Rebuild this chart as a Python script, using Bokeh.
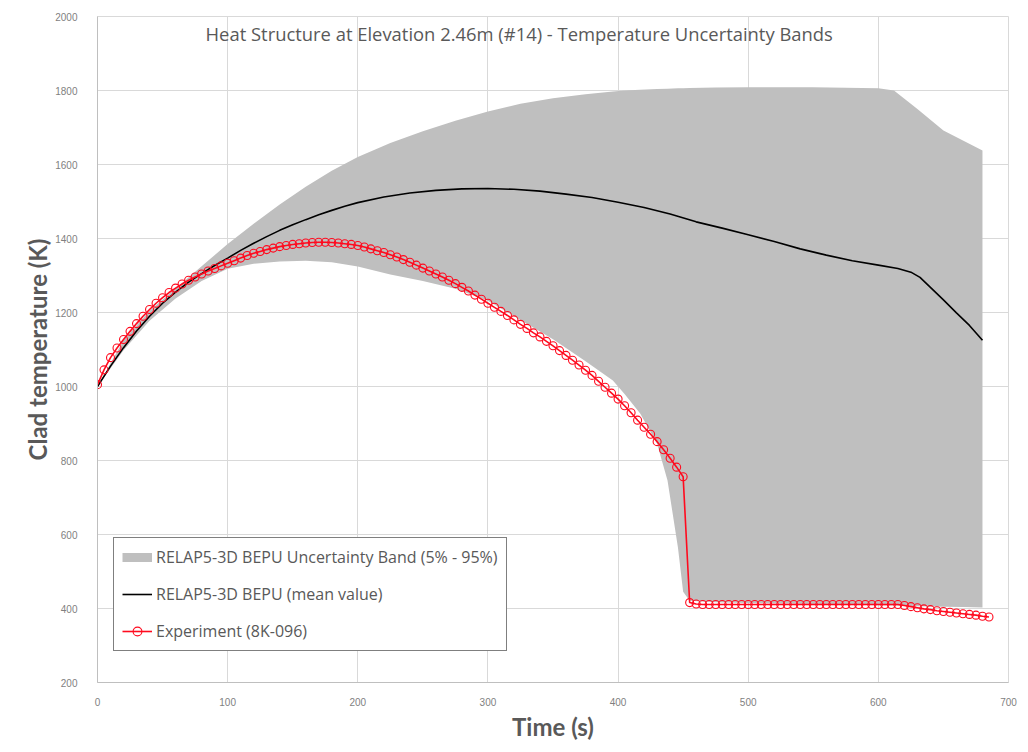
from bokeh.plotting import figure
from bokeh.models import Label, Legend, LegendItem, FixedTicker, Range1d
from bokeh.embed import file_html
from bokeh.resources import INLINE

# --- data -------------------------------------------------------------------
# Experiment 8K-096, clad temperature (K) sampled every 5 s
exp_time = list(range(0, 690, 5))
exp_temp = [
    1005, 1045, 1078, 1104, 1127, 1149, 1170, 1190, 1208, 1225,
    1240, 1254, 1266, 1277, 1287, 1296, 1304, 1312, 1319, 1326,
    1333, 1340, 1347, 1354, 1360, 1365, 1370, 1374, 1378, 1381,
    1384, 1386, 1388, 1389, 1390, 1390, 1389, 1388, 1386, 1384,
    1381, 1377, 1372, 1367, 1362, 1356, 1350, 1343, 1336, 1328,
    1320, 1312, 1304, 1296, 1287, 1278, 1268, 1258, 1247, 1236,
    1225, 1214, 1203, 1192, 1180, 1168, 1157, 1145, 1134, 1122,
    1110, 1097, 1084, 1071, 1058, 1044, 1030, 1014, 998, 982,
    966, 948, 929, 909, 890, 871, 851, 829, 806, 782,
    756, 416, 412, 411, 411, 411, 411, 411, 411, 411,
    411, 411, 411, 411, 411, 411, 411, 411, 411, 411,
    411, 411, 411, 411, 411, 411, 411, 411, 411, 411,
    411, 411, 411, 411, 408, 405, 402, 399, 397, 394,
    392, 390, 388, 386, 384, 382, 379, 377,
]

# RELAP5-3D BEPU mean value
mean_time = [0, 10, 20, 30, 40, 50, 60, 70, 80, 90, 100, 110, 120, 130, 140,
             150, 160, 170, 180, 190, 200, 220, 240, 260, 280, 300, 320, 340,
             360, 380, 400, 420, 440, 460, 480, 500, 520, 540, 560, 580, 600,
             615, 625, 632, 640, 650, 660, 670, 680]
mean_temp = [1000, 1055, 1105, 1150, 1190, 1225, 1255, 1282, 1305, 1327, 1347,
             1368, 1387, 1405, 1422, 1437, 1451, 1464, 1476, 1487, 1497, 1512,
             1523, 1530, 1534, 1535, 1533, 1528, 1520, 1511, 1498, 1484, 1466,
             1445, 1428, 1410, 1392, 1372, 1355, 1340, 1328, 1319, 1309, 1295,
             1268, 1234, 1199, 1165, 1125]

# RELAP5-3D BEPU 5% - 95% uncertainty band
band_time = [0, 20, 40, 60, 80, 100, 120, 140, 160, 180, 200, 225, 250, 275,
             300, 325, 350, 375, 396, 405, 417, 430, 438, 446, 450, 455, 475,
             500, 550, 600, 612, 630, 650, 665, 680]
band_low = [1000, 1098, 1178, 1238, 1285, 1318, 1332, 1338, 1340, 1336, 1324,
            1303, 1285, 1264, 1232, 1180, 1128, 1068, 1016, 980, 927, 845, 746,
            565, 445, 421, 417, 415, 412, 409, 408, 406, 405, 404, 403]
band_high = [1000, 1125, 1205, 1265, 1325, 1385, 1440, 1492, 1540, 1583, 1620,
             1658, 1690, 1718, 1743, 1764, 1779, 1790, 1797, 1800, 1802, 1804,
             1805, 1806, 1806, 1807, 1808, 1809, 1809, 1806, 1800, 1750, 1692,
             1665, 1638]

x_ticks = [0, 100, 200, 300, 400, 500, 600, 700]
y_ticks = [200, 400, 600, 800, 1000, 1200, 1400, 1600, 1800, 2000]

BAND = "#bfbfbf"
RED = "#ff0a1e"
TEXT = "#595959"
NAN = float("nan")

p = figure(width=1028, height=752, output_backend="svg", toolbar_location=None,
           x_range=Range1d(0, 700), y_range=Range1d(200, 2000),
           min_border_left=97, min_border_right=20, min_border_top=16,
           min_border_bottom=70)
p.background_fill_color = "white"
p.border_fill_color = "white"
p.outline_line_color = "#d9d9d9"

band = p.varea(x=band_time, y1=band_low, y2=band_high, fill_color=BAND,
               fill_alpha=1.0)
mean = p.line(mean_time, mean_temp, line_color="#000000", line_width=1.6)
exp_line = p.line(exp_time, exp_temp, line_color=RED, line_width=1.6)
exp_pts = p.scatter(exp_time, exp_temp, marker="circle", size=8,
                    line_color=RED, line_width=1.1, fill_color=None)

# legend swatch for the band: a short thick bar (nothing drawn in the plot)
band_key = p.line(x=[NAN], y=[NAN], line_color=BAND, line_width=9,
                  line_cap="butt")

# axes
p.xaxis.ticker = FixedTicker(ticks=x_ticks)
p.yaxis.ticker = FixedTicker(ticks=y_ticks)
for ax in (p.xaxis, p.yaxis):
    ax.major_tick_line_color = None
    ax.minor_tick_line_color = None
    ax.axis_line_color = "#bfbfbf"
    ax.major_label_text_font = "Liberation Sans"
    ax.major_label_text_font_size = "10px"
    ax.major_label_text_color = "#7f7f7f"
    ax.axis_label_text_font = "Lato"
    ax.axis_label_text_font_style = "bold"
    ax.axis_label_text_font_size = "24px"
    ax.axis_label_text_color = TEXT
p.xaxis.axis_label = "Time (s)"
p.yaxis.axis_label = "Clad temperature (K)"
p.xaxis.major_label_standoff = 9
p.yaxis.major_label_standoff = 14
p.xaxis.axis_label_standoff = 3
p.yaxis.axis_label_standoff = 0

p.xgrid.grid_line_color = "#d9d9d9"
p.ygrid.grid_line_color = "#d9d9d9"

# chart title inside the plot area
p.add_layout(Label(x=324, y=1954,
                   text="Heat Structure at Elevation 2.46m (#14) - Temperature Uncertainty Bands",
                   text_align="center", text_baseline="middle",
                   text_font="Open Sans", text_font_size="18.4px",
                   text_color=TEXT))

legend = Legend(items=[
    LegendItem(label="RELAP5-3D BEPU Uncertainty Band (5% - 95%)", renderers=[band_key]),
    LegendItem(label="RELAP5-3D BEPU (mean value)", renderers=[mean]),
    LegendItem(label="Experiment (8K-096)", renderers=[exp_line, exp_pts]),
], location=(16, 31))
legend.border_line_color = "#000000"
legend.border_line_width = 1.5
legend.background_fill_color = "white"
legend.background_fill_alpha = 1.0
legend.padding = 8
legend.spacing = 15
legend.margin = 0
legend.glyph_width = 30
legend.glyph_height = 22
legend.label_height = 22
legend.label_standoff = 4
legend.label_text_font = "Open Sans"
legend.label_text_font_size = "16px"
legend.label_text_color = TEXT
p.add_layout(legend)

open("out.html", "w").write(file_html(p, INLINE))
